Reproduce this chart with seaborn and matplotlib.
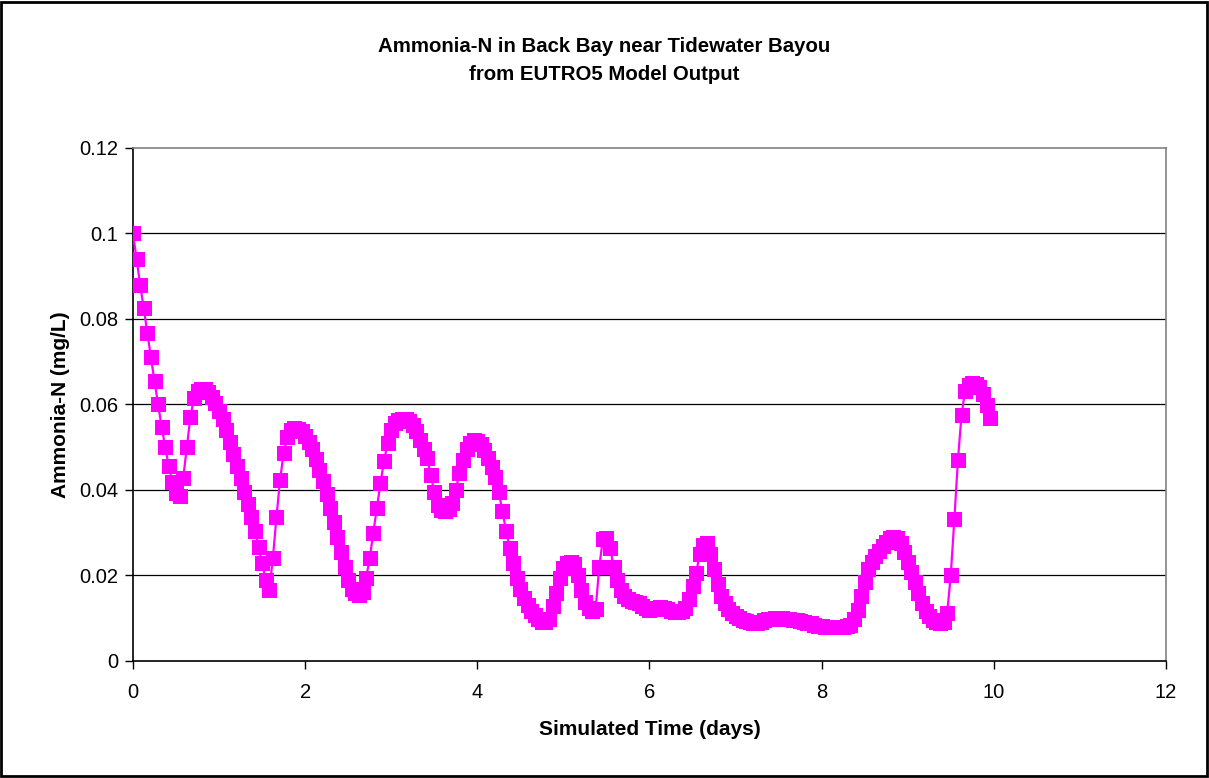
import matplotlib
matplotlib.use('Agg')
import matplotlib.pyplot as plt
from matplotlib.patches import Rectangle
import numpy as np
import pandas as pd
import seaborn as sns

# Hourly model output (days)
hours = np.arange(240)
ammonia = [
    0.100, 0.094, 0.088, 0.0825, 0.0767, 0.071, 0.0655, 0.060, 0.0547, 0.050,
    0.0455, 0.0418, 0.0393, 0.0387, 0.0428, 0.050, 0.057, 0.0615, 0.0632, 0.0637,
    0.0636, 0.063, 0.0618, 0.0603, 0.0585, 0.0565, 0.054, 0.0512, 0.0485, 0.0455,
    0.0427, 0.0396, 0.0368, 0.0337, 0.0305, 0.0267, 0.0229, 0.019, 0.0166, 0.024,
    0.0337, 0.0423, 0.0486, 0.0524, 0.054, 0.0545, 0.0543, 0.0537, 0.0527, 0.0513,
    0.0495, 0.0472, 0.0447, 0.042, 0.039, 0.0358, 0.0325, 0.029, 0.0255, 0.022,
    0.019, 0.0168, 0.0158, 0.0155, 0.0162, 0.0195, 0.024, 0.030, 0.0358, 0.0416,
    0.0468, 0.051, 0.054, 0.0556, 0.0563, 0.0566, 0.0566, 0.0562, 0.0553, 0.0538,
    0.0517, 0.0497, 0.0475, 0.0435, 0.0395, 0.0365, 0.0353, 0.035, 0.0356, 0.037,
    0.040, 0.044, 0.047, 0.0495, 0.051, 0.0517, 0.0515, 0.0508, 0.0493, 0.0475,
    0.0454, 0.043, 0.0395, 0.035, 0.0305, 0.0265, 0.023, 0.0195, 0.0168, 0.0148,
    0.013, 0.0118, 0.0107, 0.0098, 0.0092, 0.0091, 0.0098, 0.0128, 0.016, 0.0195,
    0.0218, 0.0229, 0.0232, 0.0228, 0.020, 0.0165, 0.0138, 0.0123, 0.0118, 0.0122,
    0.022, 0.0285, 0.0288, 0.0265, 0.022, 0.019, 0.0165, 0.0152, 0.0145, 0.0141,
    0.0138, 0.0135, 0.0128, 0.0123, 0.012, 0.0121, 0.0125, 0.0126, 0.0124, 0.0121,
    0.0117, 0.0115, 0.0114, 0.0116, 0.0125, 0.0145, 0.0175, 0.0205, 0.025, 0.0272,
    0.0275, 0.025, 0.0215, 0.018, 0.0153, 0.0135, 0.0122, 0.0113, 0.0106, 0.010,
    0.0096, 0.0093, 0.0091, 0.0089, 0.0089, 0.0092, 0.0095, 0.0098, 0.0099, 0.010,
    0.010, 0.010, 0.0099, 0.0098, 0.0097, 0.0096, 0.0094, 0.0092, 0.009, 0.0088,
    0.0085, 0.0083, 0.0081, 0.008, 0.008, 0.0079, 0.008, 0.008, 0.008, 0.0081,
    0.0085, 0.0098, 0.012, 0.0152, 0.0185, 0.0215, 0.0232, 0.0245, 0.0257, 0.0268,
    0.0278, 0.0287, 0.029, 0.0287, 0.0275, 0.0255, 0.0232, 0.0208, 0.0185, 0.016,
    0.0135, 0.0118, 0.0106, 0.0097, 0.0091, 0.0089, 0.0092, 0.0113, 0.020, 0.0331,
    0.047, 0.0575, 0.0632, 0.0645, 0.065, 0.0648, 0.064, 0.0625, 0.0598, 0.0568,
]
x_ticks = [0, 2, 4, 6, 8, 10, 12]
y_ticks = [0, 0.02, 0.04, 0.06, 0.08, 0.1, 0.12]
y_tick_labels = ['0', '0.02', '0.04', '0.06', '0.08', '0.1', '0.12']

df = pd.DataFrame({'days': hours / 24, 'ammonia': ammonia})

sns.set_style('white')
plt.rcParams['font.family'] = ['Liberation Sans', 'DejaVu Sans']
plt.rcParams['text.color'] = 'black'
plt.rcParams['axes.labelcolor'] = 'black'
plt.rcParams['xtick.color'] = 'black'
plt.rcParams['ytick.color'] = 'black'

fig = plt.figure(figsize=(12.09, 7.78), dpi=100)
ax = fig.add_axes([0.110, 0.1504, 0.8544, 0.6594])

# Excel-style horizontal gridlines
for yv in y_ticks[1:-1]:
    ax.axhline(yv, color='black', lw=0.9, zorder=1)

sns.lineplot(data=df, x='days', y='ammonia', ax=ax, color='#FF00FF',
             marker='s', markersize=10.8, markeredgecolor='#FF00FF',
             markeredgewidth=0, linewidth=1.6, zorder=3)

ax.set_xlim(0, 12)
ax.set_ylim(0, 0.12)
ax.set_xticks(x_ticks)
ax.set_xticklabels([str(v) for v in x_ticks])
ax.set_yticks(y_ticks)
ax.set_yticklabels(y_tick_labels)
ax.tick_params(axis='both', direction='out', length=6, width=1, color='black',
               labelsize=14.5, bottom=True, left=True)
ax.tick_params(axis='x', pad=10)
ax.tick_params(axis='y', pad=4.5)

ax.set_xlabel('Simulated Time (days)', fontsize=15, fontweight='bold', labelpad=13)
ax.set_ylabel('Ammonia-N (mg/L)', fontsize=15, fontweight='bold', labelpad=6.5)

for side in ['top', 'right']:
    ax.spines[side].set_color('#808080')
    ax.spines[side].set_linewidth(1.2)
for side in ['left', 'bottom']:
    ax.spines[side].set_color('black')
    ax.spines[side].set_linewidth(1.2)

fig.text(0.4996, 1 - 47 / 778, 'Ammonia-N in Back Bay near Tidewater Bayou',
         ha='center', va='center', fontsize=14.7, fontweight='bold')
fig.text(0.4996, 1 - 75 / 778, 'from EUTRO5 Model Output',
         ha='center', va='center', fontsize=14.7, fontweight='bold')

# chart border
fig.patches.append(Rectangle((0.001, 0.002), 0.997, 0.996, transform=fig.transFigure,
                             fill=False, edgecolor='black', linewidth=2))

fig.savefig('out.png', dpi=100)
